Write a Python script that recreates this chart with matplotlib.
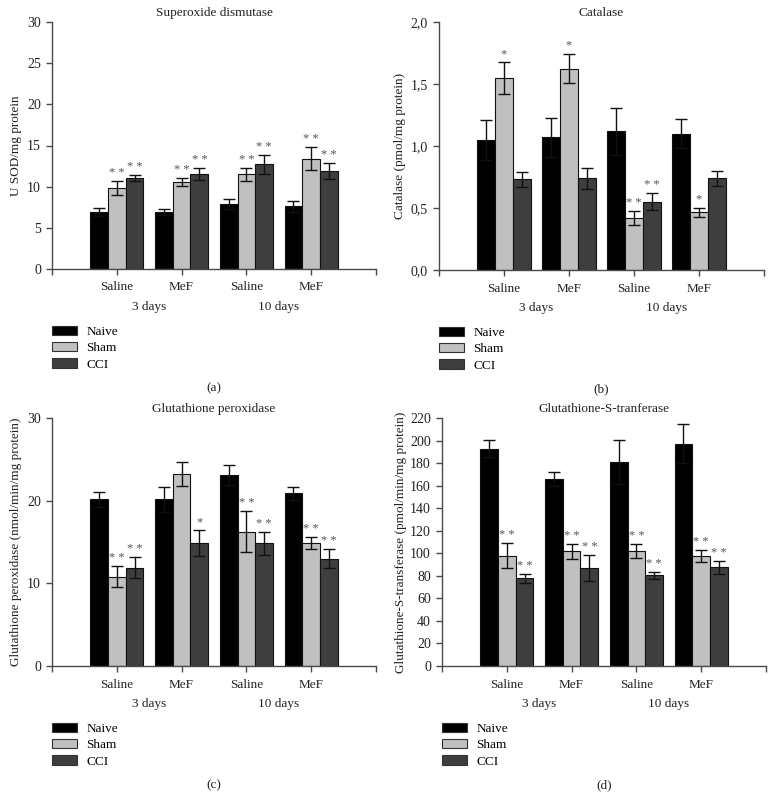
import numpy as np
import matplotlib
matplotlib.use('Agg')
import matplotlib.pyplot as plt
from matplotlib.patches import Patch
from matplotlib.ticker import FuncFormatter

plt.rcParams['font.family'] = ['Liberation Serif', 'DejaVu Serif']

groups = ['Saline', 'MeF', 'Saline', 'MeF']
periods = ['3 days', '10 days']
series = ['Naive', 'Sham', 'CCI']
colors = ['#000000', '#c0c0c0', '#3e3e3e']

# Superoxide dismutase
sod_naive = [6.9, 6.9, 7.9, 7.6]
sod_naive_err = [0.5, 0.35, 0.65, 0.65]
sod_sham = [9.8, 10.55, 11.5, 13.4]
sod_sham_err = [0.85, 0.45, 0.8, 1.4]
sod_cci = [11.05, 11.5, 12.7, 11.9]
sod_cci_err = [0.35, 0.75, 1.15, 0.95]
sod_sham_sig = ['**', '**', '**', '**']
sod_cci_sig = ['**', '**', '**', '**']

# Catalase
cat_naive = [1.05, 1.07, 1.12, 1.10]
cat_naive_err = [0.16, 0.155, 0.19, 0.115]
cat_sham = [1.55, 1.625, 0.42, 0.465]
cat_sham_err = [0.127, 0.12, 0.054, 0.037]
cat_cci = [0.73, 0.74, 0.55, 0.74]
cat_cci_err = [0.06, 0.086, 0.07, 0.06]
cat_sham_sig = ['*', '*', '**', '*']
cat_cci_sig = ['', '', '**', '']

# Glutathione peroxidase
gpx_naive = [20.15, 20.15, 23.1, 20.9]
gpx_naive_err = [0.9, 1.5, 1.25, 0.8]
gpx_sham = [10.8, 23.2, 16.25, 14.9]
gpx_sham_err = [1.3, 1.45, 2.5, 0.73]
gpx_cci = [11.9, 14.9, 14.85, 13.0]
gpx_cci_err = [1.3, 1.55, 1.37, 1.17]
gpx_sham_sig = ['**', '', '**', '**']
gpx_cci_sig = ['**', '*', '**', '**']

# Glutathione-S-transferase
gst_naive = [192.7, 166, 181, 197.2]
gst_naive_err = [7.7, 6, 19.3, 17.5]
gst_sham = [97.8, 101.7, 101.7, 97.5]
gst_sham_err = [11.3, 6.8, 6.2, 5.4]
gst_cci = [77.7, 86.6, 80.3, 87.5]
gst_cci_err = [4.1, 11.5, 2.7, 5.6]
gst_sham_sig = ['**', '**', '**', '**']
gst_cci_sig = ['**', '**', '**', '**']

W, H = 774, 809
fig = plt.figure(figsize=(W / 100, H / 100), dpi=100)


def make_axes(left, top, right, bottom):
    return fig.add_axes([left / W, 1 - bottom / H, (right - left) / W, (bottom - top) / H])


def panel(ax, title, ylabel, vals, errs, sigs, ymax, ystep, letter, ylab_x, comma=False):
    x = np.arange(len(groups))
    bw = 0.274
    axh = ax.get_position().height * H
    for i, (v, e, s) in enumerate(zip(vals, errs, sigs)):
        xs = x + (i - 1) * bw
        ax.bar(xs, v, bw, color=colors[i], edgecolor='#111111', linewidth=0.8, zorder=2)
        ax.errorbar(xs, v, yerr=e, fmt='none', ecolor='#111111', elinewidth=1,
                    capsize=4.3, capthick=1, zorder=3)
        if s is None:
            continue
        for xx, vv, ee, ss in zip(xs, v, e, s):
            if ss:
                ax.annotate(' '.join(ss), (xx, vv + ee), xytext=(0, 1.5),
                            textcoords='offset points', ha='center', va='bottom',
                            fontsize=9, color='#555555')
    ax.set_xlim(-1.0, 4.0)
    ax.set_ylim(0, ymax)
    ax.set_yticks(np.arange(0, ymax + ystep / 2, ystep))
    if comma:
        ax.yaxis.set_major_formatter(FuncFormatter(lambda v, p: f'{v:.1f}'.replace('.', ',')))
    ax.set_xticks(list(x))
    ax.set_xticklabels(groups)
    ax.set_xticks([-1.0, 4.0], minor=True)
    for sp in ['top', 'right']:
        ax.spines[sp].set_visible(False)
    for sp in ['left', 'bottom']:
        ax.spines[sp].set_color('#4a4a4a')
        ax.spines[sp].set_linewidth(1)
    ax.tick_params(which='both', direction='out', length=4, width=1, color='#4a4a4a',
                   labelsize=10, labelcolor='#222222', pad=4)
    ax.tick_params(axis='x', labelsize=9.5, pad=5)
    ax.set_title(title, fontsize=9.5, pad=4, color='#222222')
    ax.set_ylabel(ylabel, fontsize=9.5, color='#222222')
    ax.yaxis.set_label_coords(-ylab_x / (ax.get_position().width * W), 0.5)
    tr = ax.get_xaxis_transform()
    for k, p in enumerate(periods):
        ax.text(2 * k + 0.5, -38 / axh, p, transform=tr, ha='center', va='center',
                fontsize=9.5, color='#222222')
    handles = [Patch(facecolor=c, edgecolor='#333333', linewidth=0.8) for c in colors]
    ax.legend(handles, series, loc='upper left', bbox_to_anchor=(0, -57 / axh),
              frameon=False, fontsize=9.5, handlelength=1.9, handleheight=0.7,
              labelspacing=0.3, handletextpad=0.7, borderpad=0, borderaxespad=0)
    ax.text(0.5, -119 / axh, letter, transform=ax.transAxes, ha='center', va='center',
            fontsize=9.5, color='#222222')


ax_a = make_axes(52, 22, 376, 269)
panel(ax_a, 'Superoxide dismutase', 'U SOD/mg protein',
      [sod_naive, sod_sham, sod_cci], [sod_naive_err, sod_sham_err, sod_cci_err],
      [None, sod_sham_sig, sod_cci_sig], 30, 5, '(a)', 30)

ax_b = make_axes(439, 22, 764, 270)
panel(ax_b, 'Catalase', 'Catalase (pmol/mg protein)',
      [cat_naive, cat_sham, cat_cci], [cat_naive_err, cat_sham_err, cat_cci_err],
      [None, cat_sham_sig, cat_cci_sig], 2.0, 0.5, '(b)', 33, comma=True)

ax_c = make_axes(52, 418, 376, 666)
panel(ax_c, 'Glutathione peroxidase', 'Glutathione peroxidase (nmol/min/mg protein)',
      [gpx_naive, gpx_sham, gpx_cci], [gpx_naive_err, gpx_sham_err, gpx_cci_err],
      [None, gpx_sham_sig, gpx_cci_sig], 30, 10, '(c)', 30)

ax_d = make_axes(442, 418, 766, 666)
panel(ax_d, 'Glutathione-S-tranferase', 'Glutathione-S-transferase (pmol/min/mg protein)',
      [gst_naive, gst_sham, gst_cci], [gst_naive_err, gst_sham_err, gst_cci_err],
      [None, gst_sham_sig, gst_cci_sig], 220, 20, '(d)', 35)

fig.savefig('out.png', dpi=100)
